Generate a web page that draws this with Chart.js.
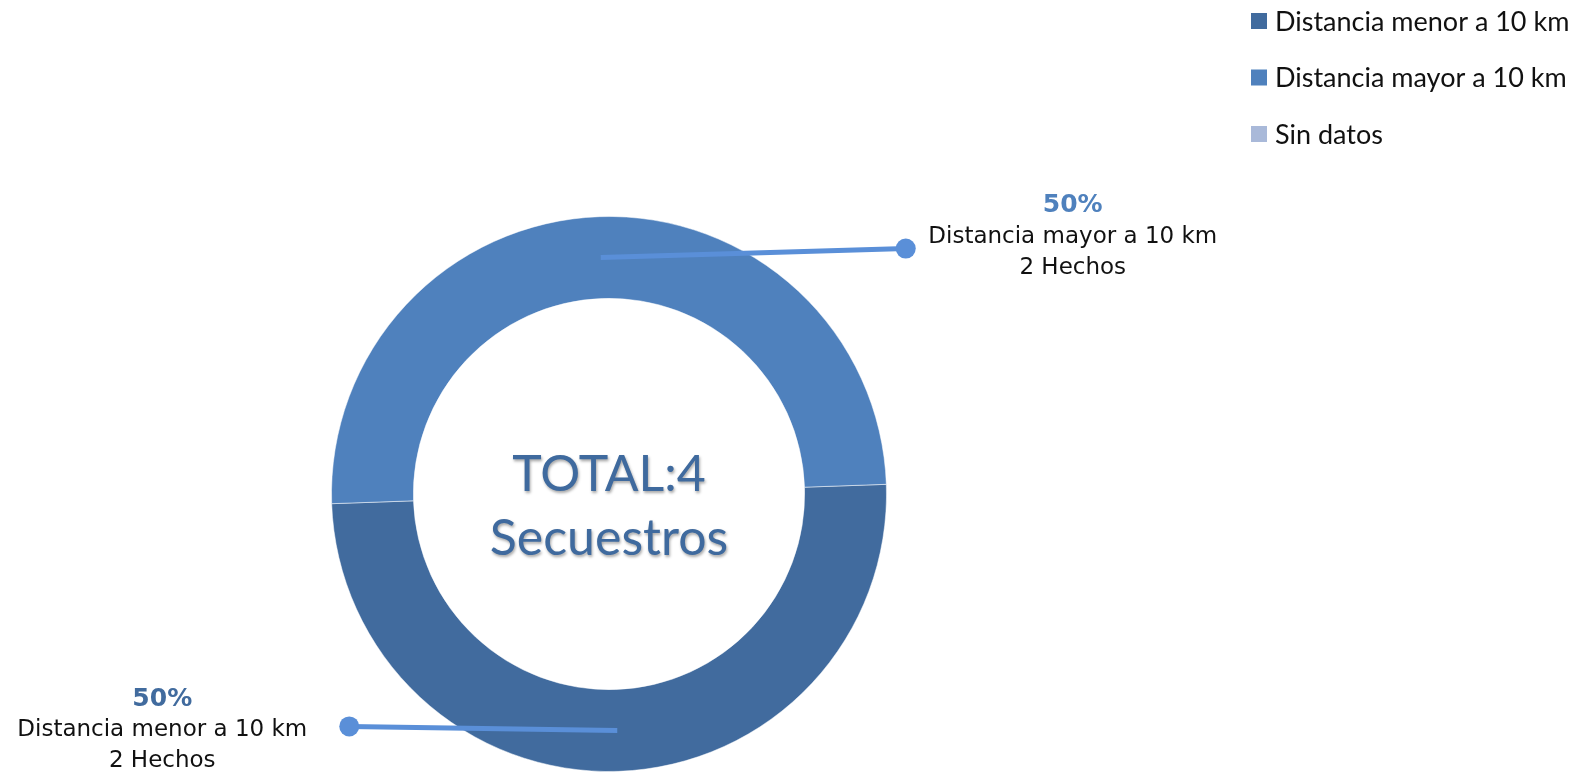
<!DOCTYPE html>
<html lang="es">
<head>
<meta charset="utf-8">
<title>Secuestros por distancia</title>
<script src="https://cdn.jsdelivr.net/npm/chart.js@4.4.1/dist/chart.umd.min.js"></script>
<style>
  html, body { margin: 0; padding: 0; background: #fff; }
</style>
</head>
<body>
<canvas id="grafico" width="1584" height="772"></canvas>
<script>
// Datos del gráfico
const categorias = ['Distancia menor a 10 km', 'Distancia mayor a 10 km', 'Sin datos'];
const hechos = [2, 2, 0];
const etiquetaTotal = 'TOTAL:';
const etiquetaCentro = 'Secuestros';
const unidad = 'Hechos';

// Estilos
const colores = ['#416B9E', '#4F81BD', '#A9B9D9'];
const colorLinea = '#5A8FD8';
// posición del punto (relativa al centro del arco) y del texto (relativa al punto)
const guias = [
  { dx: -268, dy: -4, tx: -187, ty: -27 },
  { dx: 305, dy: -9, tx: 167, ty: -43 },
  null
];

const total = hechos.reduce((a, b) => a + b, 0);

// Plugin para texto central, líneas guía y leyenda
const extras = {
  id: 'extras',
  afterDraw(chart) {
    const ctx = chart.ctx;
    const meta = chart.getDatasetMeta(0);
    const arco0 = meta.data[0];
    const cx = arco0.x, cy = arco0.y;

    // Texto central
    ctx.save();
    ctx.textAlign = 'center';
    ctx.textBaseline = 'middle';
    ctx.font = '50px Lato';
    ctx.fillStyle = '#3F6A9E';
    ctx.shadowColor = 'rgba(0,0,0,0.35)';
    ctx.shadowBlur = 3;
    ctx.shadowOffsetX = 1;
    ctx.shadowOffsetY = 2;
    ctx.fillText(etiquetaTotal + total, cx, cy - 19);
    ctx.fillText(etiquetaCentro, cx, cy + 45);
    ctx.restore();

    // Líneas guía y etiquetas
    meta.data.forEach((arco, i) => {
      const g = guias[i];
      if (!g || !hechos[i]) return;
      const p = arco.getCenterPoint();
      const px = p.x + g.dx, py = p.y + g.dy;
      ctx.save();
      ctx.strokeStyle = colorLinea;
      ctx.lineWidth = 5;
      ctx.beginPath();
      ctx.moveTo(p.x, p.y);
      ctx.lineTo(px, py);
      ctx.stroke();
      ctx.fillStyle = colorLinea;
      ctx.beginPath();
      ctx.arc(px, py, 10, 0, Math.PI * 2);
      ctx.fill();

      const pct = Math.round(hechos[i] / total * 100) + '%';
      const lx = px + g.tx, ly = py + g.ty;
      ctx.textAlign = 'center';
      ctx.textBaseline = 'middle';
      ctx.fillStyle = colores[i];
      ctx.font = 'bold 25px "DejaVu Sans"';
      ctx.fillText(pct, lx, ly);
      ctx.fillStyle = '#111';
      ctx.font = '23px "DejaVu Sans"';
      ctx.fillText(categorias[i], lx, ly + 31);
      ctx.fillText(hechos[i] + ' ' + unidad, lx, ly + 62);
      ctx.restore();
    });

    // Leyenda
    ctx.save();
    ctx.textBaseline = 'middle';
    ctx.textAlign = 'left';
    ctx.font = '27px Lato';
    categorias.forEach((c, i) => {
      const y = 21 + i * 56.5;
      ctx.fillStyle = colores[i];
      ctx.fillRect(1251, y - 8, 16, 16);
      ctx.fillStyle = '#111';
      ctx.fillText(c, 1275, y + 1);
    });
    ctx.restore();
  }
};

const chart = new Chart(document.getElementById('grafico'), {
  type: 'doughnut',
  data: {
    labels: categorias,
    datasets: [{
      data: hechos,
      backgroundColor: colores,
      borderColor: 'rgba(255,255,255,0.5)',
      borderWidth: 1,
      hoverOffset: 0
    }]
  },
  options: {
    responsive: false,
    animation: false,
    rotation: 88,
    cutout: '70.5%',
    layout: { padding: { left: 330, right: 696, top: 216, bottom: 0 } },
    plugins: {
      legend: { display: false },
      tooltip: { enabled: false }
    }
  },
  plugins: [extras]
});
</script>
</body>
</html>
